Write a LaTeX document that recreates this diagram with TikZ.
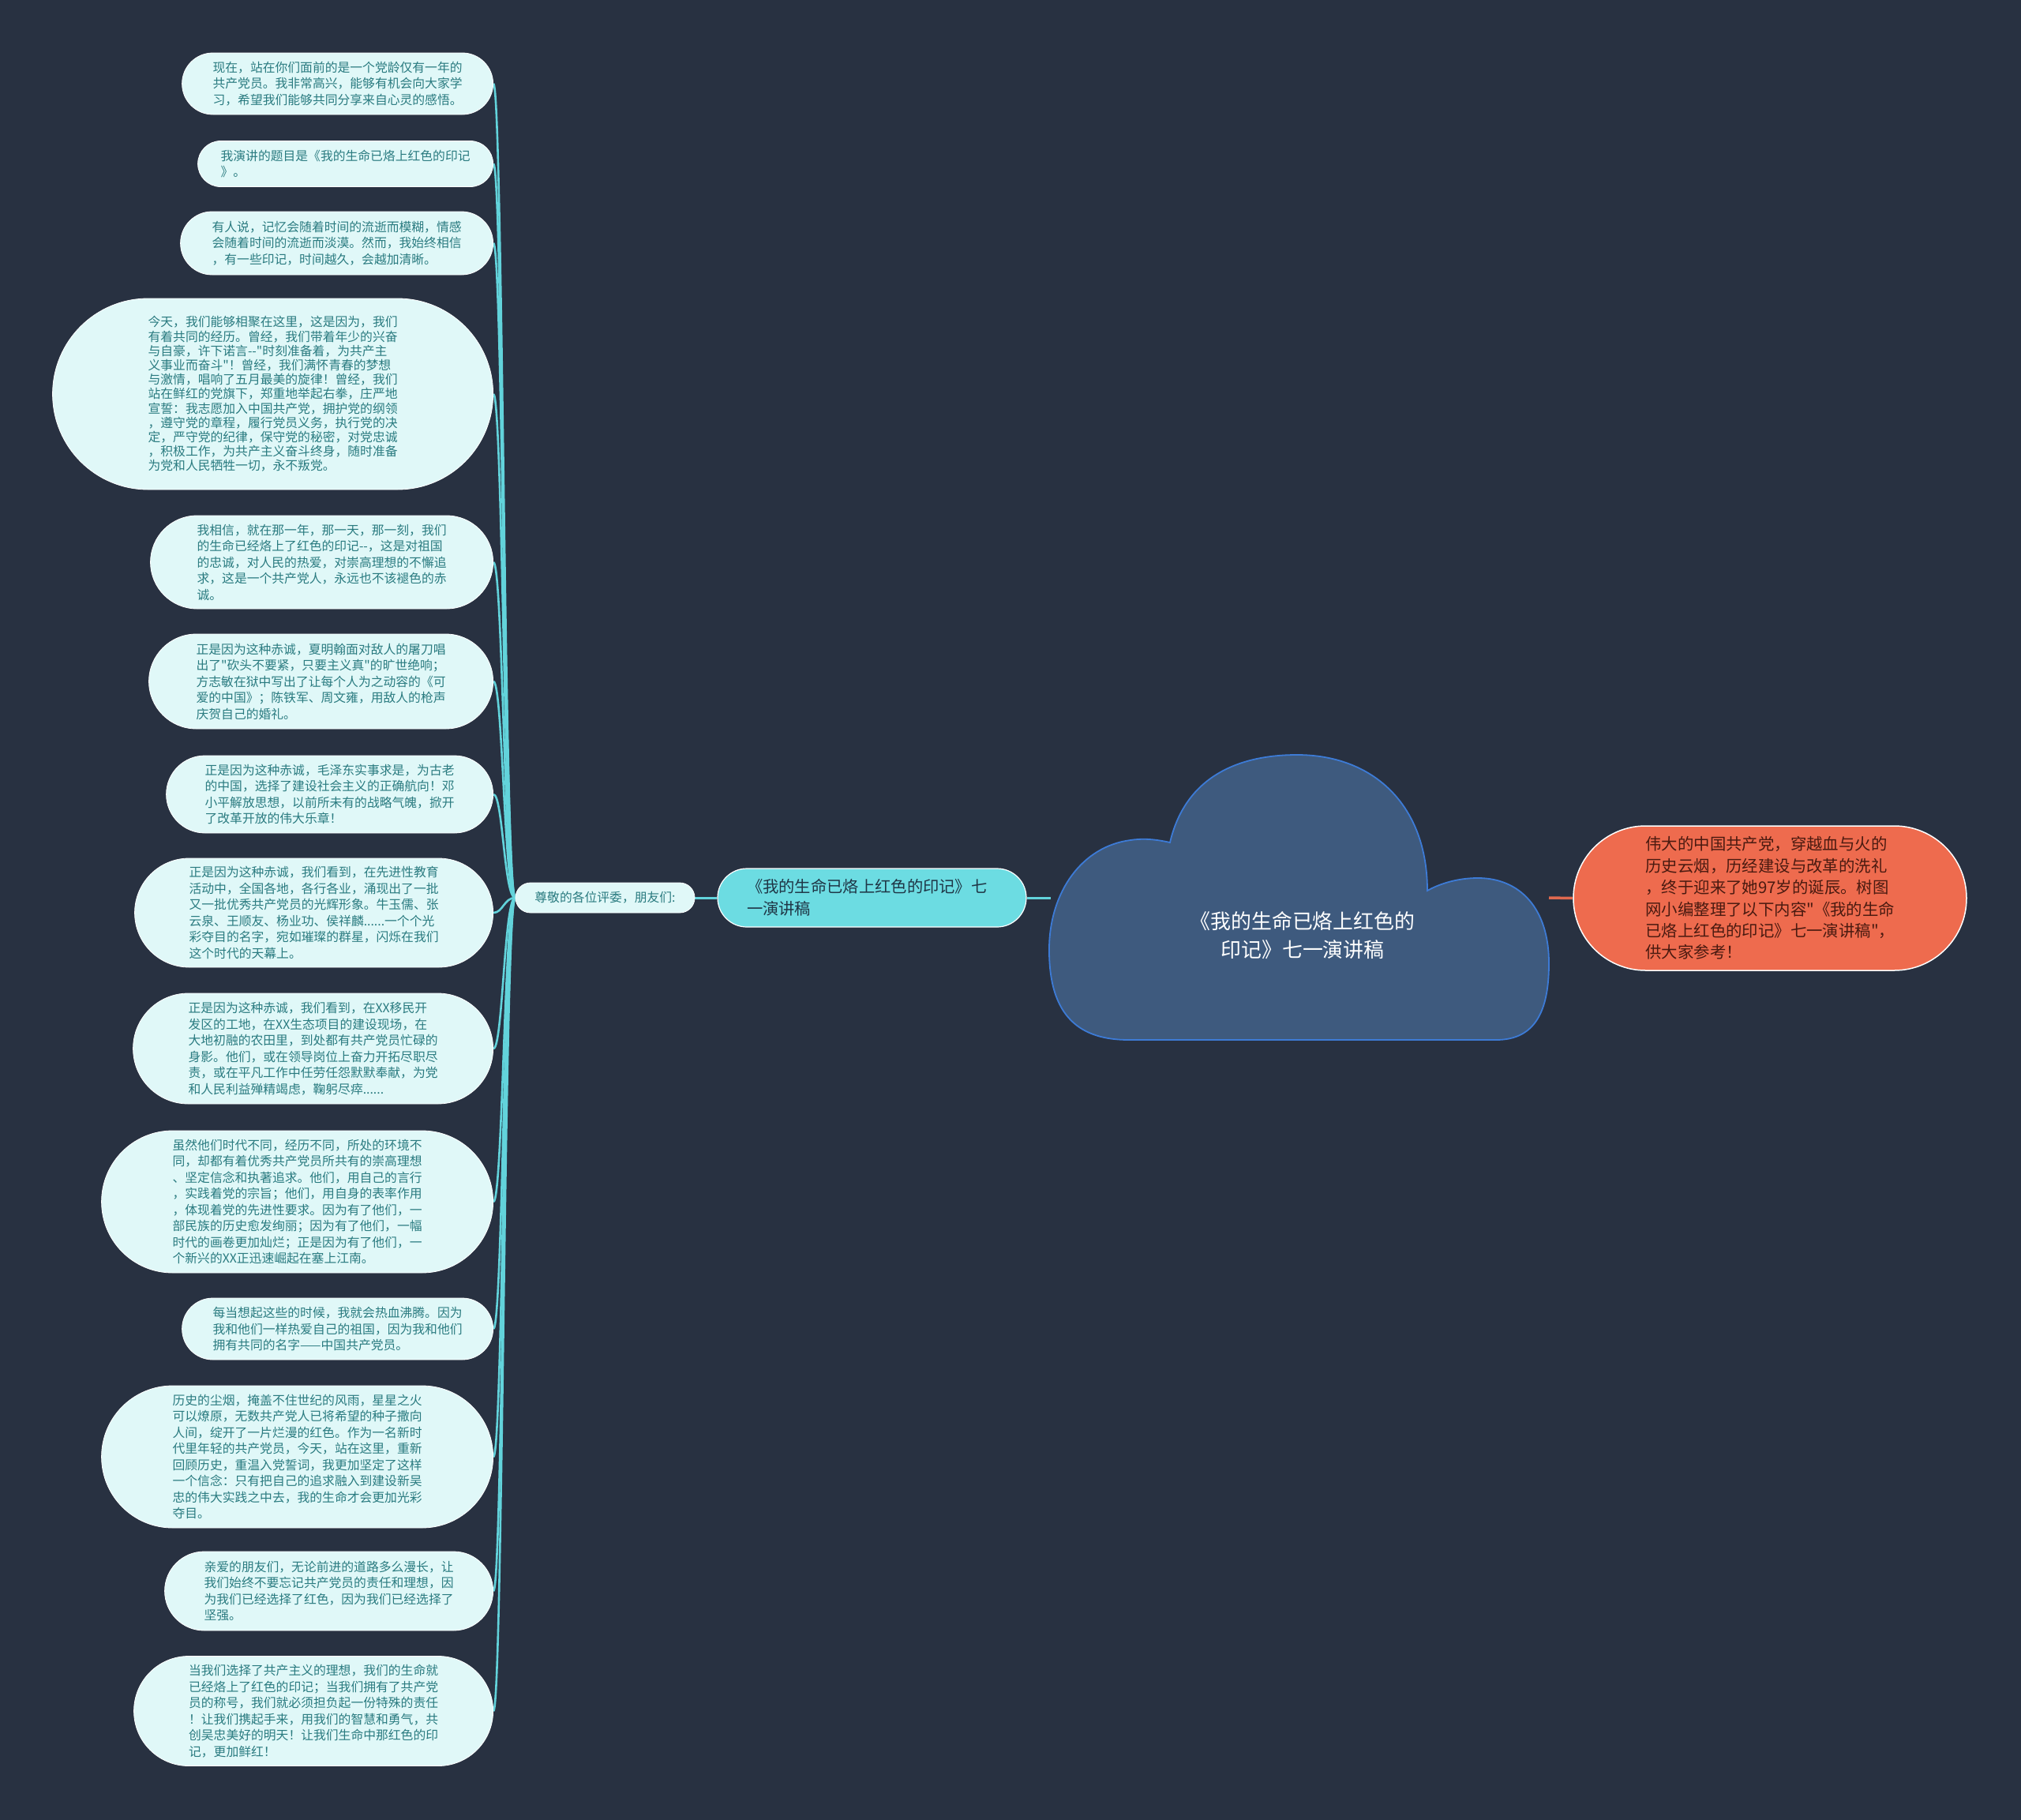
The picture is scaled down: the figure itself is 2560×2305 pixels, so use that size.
\documentclass[tikz,border=0pt]{standalone}
\usepackage{fontspec}
\newfontfamily\cjk{Noto Sans CJK SC}
\usetikzlibrary{shapes.misc,backgrounds}
\definecolor{bg}{HTML}{283141}
\definecolor{leaffill}{HTML}{E0F8F8}
\definecolor{leaftext}{HTML}{2A7B80}
\definecolor{cyanmain}{HTML}{6CDCE2}
\definecolor{cyantext}{HTML}{1F3646}
\definecolor{cyanline}{HTML}{62D3DB}
\definecolor{cloudfill}{HTML}{3E5A7E}
\definecolor{cloudedge}{HTML}{3D7BD6}
\definecolor{orangefill}{HTML}{EE6B4E}
\definecolor{orangetext}{HTML}{4A1A10}
\definecolor{orangeline}{HTML}{E0694F}
\pgfdeclarelayer{back}
\pgfsetlayers{back,background,main}
\begin{document}
\begin{tikzpicture}[x=1pt,y=-1pt,
  leaf/.style={rounded rectangle, fill=leaffill, draw=white, line width=0.8pt,
    text=leaftext, inner xsep=0pt, inner ysep=2pt, text width=316pt, align=left,
    anchor=east, minimum height=#1, minimum width=316pt+#1,
    font=\cjk\fontsize{15.8pt}{20.5pt}\selectfont},
  midnode/.style={rounded rectangle, fill=leaffill, draw=white, line width=0.8pt,
    text=leaftext, inner xsep=0pt, inner ysep=2pt, minimum height=38pt,
    minimum width=227pt, font=\cjk\fontsize{15.8pt}{20.5pt}\selectfont},
  mainnode/.style={rounded rectangle, fill=cyanmain, draw=white, line width=1.2pt,
    text=cyantext, inner xsep=0pt, inner ysep=2pt, text width=317pt, align=left,
    minimum height=74pt, minimum width=391pt,
    font=\cjk\fontsize{20.3pt}{27.8pt}\selectfont},
  orangenode/.style={rounded rectangle, fill=orangefill, draw=white, line width=1.5pt,
    text=orangetext, inner xsep=0pt, inner ysep=2pt, text width=315pt, align=left,
    minimum height=183pt, minimum width=498pt,
    font=\cjk\fontsize{20.4pt}{27.4pt}\selectfont},
  cloudshape/.style={fill=cloudfill, draw=cloudedge, line width=1.8pt},
  roottext/.style={text=white, align=center, font=\cjk\fontsize{25.9pt}{36pt}\selectfont},
  hubline/.style={draw=cyanline, line width=2.6pt},
  cyanlink/.style={draw=cyanline, line width=3pt},
  orangelink/.style={draw=orangeline, line width=3.5pt}
]
\begin{pgfonlayer}{back}
\fill[bg] (0,0) rectangle (2560,2305);
\end{pgfonlayer}
\useasboundingbox (0,0) rectangle (2560,2305);

% cloud (root)
\draw[cloudshape] (1430,1317) -- (1895,1317)
  .. controls (1945,1317) and (1962,1280) .. (1962,1220)
  .. controls (1962,1150) and (1925,1112) .. (1872,1112)
  .. controls (1845,1112) and (1822,1120) .. (1808,1128)
  .. controls (1808,1020) and (1740,956) .. (1643,956)
  .. controls (1560,956) and (1500,990) .. (1482,1067)
  .. controls (1460,1062) and (1445,1062) .. (1432,1064)
  .. controls (1370,1072) and (1330,1130) .. (1329,1200)
  .. controls (1328,1290) and (1370,1317) .. (1430,1317) -- cycle;
\node[roottext] (root) at (1650,1185) {《我的生命已烙上红色的\\印记》七一演讲稿};
\coordinate (rootL) at (1331,1137);
\coordinate (rootR) at (1962,1137);

% right node
\node[orangenode] (intro) at (2242,1137.5) {伟大的中国共产党，穿越血与火的\\历史云烟，历经建设与改革的洗礼\\，终于迎来了她97岁的诞辰。树图\\网小编整理了以下内容"《我的生命\\已烙上红色的印记》七一演讲稿"，\\供大家参考！};

% main topic node
\node[mainnode] (topic) at (1104.5,1137) {《我的生命已烙上红色的印记》七\\一演讲稿};

% mid node
\node[midnode] (mid) at (766.5,1137) {尊敬的各位评委，朋友们:};

% leaves
\node[leaf=78pt] (l1) at (625,106) {现在，站在你们面前的是一个党龄仅有一年的\\共产党员。我非常高兴，能够有机会向大家学\\习，希望我们能够共同分享来自心灵的感悟。};
\node[leaf=58pt] (l2) at (625,207.5) {我演讲的题目是《我的生命已烙上红色的印记\\》。};
\node[leaf=80pt] (l3) at (625,308) {有人说，记忆会随着时间的流逝而模糊，情感\\会随着时间的流逝而淡漠。然而，我始终相信\\，有一些印记，时间越久，会越加清晰。};
\node[leaf=242pt, font=\cjk\fontsize{15.8pt}{18.2pt}\selectfont] (l4) at (625,499) {今天，我们能够相聚在这里，这是因为，我们\\有着共同的经历。曾经，我们带着年少的兴奋\\与自豪，许下诺言-{}-"时刻准备着，为共产主\\义事业而奋斗"！曾经，我们满怀青春的梦想\\与激情，唱响了五月最美的旋律！曾经，我们\\站在鲜红的党旗下，郑重地举起右拳，庄严地\\宣誓：我志愿加入中国共产党，拥护党的纲领\\，遵守党的章程，履行党员义务，执行党的决\\定，严守党的纪律，保守党的秘密，对党忠诚\\，积极工作，为共产主义奋斗终身，随时准备\\为党和人民牺牲一切，永不叛党。};
\node[leaf=118pt] (l5) at (625,712) {我相信，就在那一年，那一天，那一刻，我们\\的生命已经烙上了红色的印记-{}-，这是对祖国\\的忠诚，对人民的热爱，对崇高理想的不懈追\\求，这是一个共产党人，永远也不该褪色的赤\\诚。};
\node[leaf=120pt] (l6) at (625,863) {正是因为这种赤诚，夏明翰面对敌人的屠刀唱\\出了"砍头不要紧，只要主义真"的旷世绝响；\\方志敏在狱中写出了让每个人为之动容的《可\\爱的中国》；陈铁军、周文雍，用敌人的枪声\\庆贺自己的婚礼。};
\node[leaf=98pt] (l7) at (625,1006) {正是因为这种赤诚，毛泽东实事求是，为古老\\的中国，选择了建设社会主义的正确航向！邓\\小平解放思想，以前所未有的战略气魄，掀开\\了改革开放的伟大乐章！};
\node[leaf=138pt] (l8) at (625,1156) {正是因为这种赤诚，我们看到，在先进性教育\\活动中，全国各地，各行各业，涌现出了一批\\又一批优秀共产党员的光辉形象。牛玉儒、张\\云泉、王顺友、杨业功、侯祥麟......一个个光\\彩夺目的名字，宛如璀璨的群星，闪烁在我们\\这个时代的天幕上。};
\node[leaf=140pt] (l9) at (625,1328) {正是因为这种赤诚，我们看到，在XX移民开\\发区的工地，在XX生态项目的建设现场，在\\大地初融的农田里，到处都有共产党员忙碌的\\身影。他们，或在领导岗位上奋力开拓尽职尽\\责，或在平凡工作中任劳任怨默默奉献，为党\\和人民利益殚精竭虑，鞠躬尽瘁......};
\node[leaf=180pt] (l10) at (625,1522) {虽然他们时代不同，经历不同，所处的环境不\\同，却都有着优秀共产党员所共有的崇高理想\\、坚定信念和执著追求。他们，用自己的言行\\，实践着党的宗旨；他们，用自身的表率作用\\，体现着党的先进性要求。因为有了他们，一\\部民族的历史愈发绚丽；因为有了他们，一幅\\时代的画卷更加灿烂；正是因为有了他们，一\\个新兴的XX正迅速崛起在塞上江南。};
\node[leaf=78pt] (l11) at (625,1683) {每当想起这些的时候，我就会热血沸腾。因为\\我和他们一样热爱自己的祖国，因为我和他们\\拥有共同的名字——中国共产党员。};
\node[leaf=180pt] (l12) at (625,1845) {历史的尘烟，掩盖不住世纪的风雨，星星之火\\可以燎原，无数共产党人已将希望的种子撒向\\人间，绽开了一片烂漫的红色。作为一名新时\\代里年轻的共产党员，今天，站在这里，重新\\回顾历史，重温入党誓词，我更加坚定了这样\\一个信念：只有把自己的追求融入到建设新吴\\忠的伟大实践之中去，我的生命才会更加光彩\\夺目。};
\node[leaf=100pt] (l13) at (625,2015) {亲爱的朋友们，无论前进的道路多么漫长，让\\我们始终不要忘记共产党员的责任和理想，因\\为我们已经选择了红色，因为我们已经选择了\\坚强。};
\node[leaf=139pt] (l14) at (625,2167) {当我们选择了共产主义的理想，我们的生命就\\已经烙上了红色的印记；当我们拥有了共产党\\员的称号，我们就必须担负起一份特殊的责任\\！让我们携起手来，用我们的智慧和勇气，共\\创吴忠美好的明天！让我们生命中那红色的印\\记，更加鲜红！};

% connectors
\begin{pgfonlayer}{background}
\draw[orangelink] (rootR) -- (intro.west);
\draw[cyanlink] (rootL) -- (topic.east);
\draw[cyanlink] (topic.west) -- (mid.east);
\foreach \n in {l1,l2,l3,l4,l5,l6,l7,l8,l9,l10,l11,l12,l13,l14}
  \draw[hubline] (mid.west) .. controls +(-14,0) and +(12,0) .. (\n.east);
\end{pgfonlayer}
\end{tikzpicture}
\end{document}
